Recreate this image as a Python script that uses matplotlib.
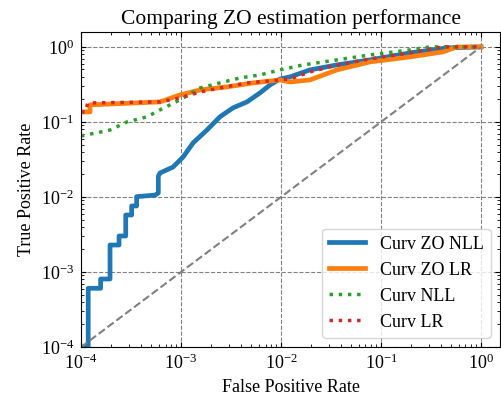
import numpy as np
import matplotlib
matplotlib.use("Agg")
import matplotlib.pyplot as plt

# ROC curves (fpr, tpr)
zo_nll_fpr = [1e-4, 1.18e-4, 1.18e-4, 1.57e-4, 1.57e-4, 1.95e-4, 1.95e-4, 2.4e-4, 2.4e-4,
              2.8e-4, 2.8e-4, 3.21e-4, 3.21e-4, 3.6e-4, 3.6e-4, 5.5e-4, 5.93e-4, 5.93e-4,
              6.17e-4, 8.3e-4, 1.05e-3, 1.32e-3, 1.82e-3, 2.45e-3, 3.31e-3, 4.57e-3,
              6.17e-3, 7.76e-3, 9.8e-3, 1.23e-2, 1.95e-2, 3.63e-2, 7.76e-2, 0.195, 0.457, 1.0]
zo_nll_tpr = [1e-4, 1e-4, 6.07e-4, 6.07e-4, 8.07e-4, 8.07e-4, 2.29e-3, 2.29e-3, 3.02e-3,
              3.02e-3, 5.75e-3, 5.75e-3, 7.59e-3, 7.59e-3, 1.01e-2, 1.06e-2, 1.13e-2, 1.9e-2,
              2.09e-2, 2.5e-2, 3.41e-2, 5.25e-2, 7.82e-2, 0.117, 0.154, 0.185,
              0.244, 0.311, 0.374, 0.398, 0.494, 0.575, 0.671, 0.832, 0.97, 1.0]

zo_lr_fpr = [1e-4, 1.23e-4, 1.23e-4, 6.17e-4, 9.77e-4, 1.55e-3, 2.88e-3, 5.25e-3, 9.8e-3,
             1.23e-2, 1.95e-2, 3.63e-2, 7.76e-2, 0.195, 0.417, 0.575, 1.0]
zo_lr_tpr = [0.136, 0.136, 0.169, 0.185, 0.229, 0.267, 0.293, 0.331, 0.363,
             0.341, 0.363, 0.494, 0.631, 0.736, 0.858, 1.0, 1.0]

nll_fpr = [1e-4, 1.95e-4, 2.88e-4, 4.57e-4, 6.17e-4, 9.77e-4, 1.55e-3, 2.45e-3, 3.89e-3,
           6.17e-3, 9.8e-3, 1.66e-2, 3.63e-2, 7.76e-2, 0.195, 0.309, 1.0]
nll_tpr = [0.065, 0.078, 0.1, 0.117, 0.145, 0.197, 0.284, 0.331, 0.386,
           0.423, 0.494, 0.575, 0.671, 0.782, 0.912, 1.0, 1.0]

lr_fpr = [1e-4, 1.1e-4, 1.17e-4, 6.17e-4, 9.77e-4, 1.55e-3, 2.45e-3, 4.57e-3, 9.8e-3,
          1.23e-2, 1.95e-2, 3.63e-2, 7.76e-2, 0.195, 0.417, 1.0]
lr_tpr = [0.136, 0.136, 0.179, 0.185, 0.209, 0.251, 0.284, 0.331, 0.363,
          0.374, 0.464, 0.575, 0.692, 0.832, 1.0, 1.0]

plt.rcParams['font.family'] = ['Liberation Serif', 'DejaVu Serif']
plt.rcParams['mathtext.fontset'] = 'stix'
plt.rcParams['xtick.direction'] = 'in'
plt.rcParams['ytick.direction'] = 'in'

fig = plt.figure(figsize=(5.02, 3.98), dpi=100)
ax = fig.add_axes([0.1614, 0.128, 0.8346, 0.7916])

ax.plot(zo_nll_fpr, zo_nll_tpr, color='#1f77b4', lw=3.4, label='Curv ZO NLL')
ax.plot(zo_lr_fpr, zo_lr_tpr, color='#ff7f0e', lw=3.4, label='Curv ZO LR')
ax.plot(nll_fpr, nll_tpr, color='#2ca02c', lw=2.5, ls=':', label='Curv NLL')
ax.plot(lr_fpr, lr_tpr, color='#d62728', lw=2.5, ls=':', label='Curv LR')
ax.plot([1e-4, 1], [1e-4, 1], color='gray', lw=1.5, ls='--')

ax.set_xscale('log')
ax.set_yscale('log')
ax.set_xlim(1e-4, 1.55)
ax.set_ylim(1e-4, 1.58)
ax.grid(True, which='major', ls='--', color='gray', lw=0.8)
ax.tick_params(which='both', top=True, right=True, labelsize=13)
ax.tick_params(which='major', length=3.5, pad=5)
ax.tick_params(which='minor', length=2)

ax.set_title('Comparing ZO estimation performance', fontsize=15.5)
ax.set_xlabel('False Positive Rate', fontsize=13)
ax.set_ylabel('True Positive Rate', fontsize=13)
ax.legend(loc='lower right', fontsize=13)

fig.savefig('out.png', dpi=100)
